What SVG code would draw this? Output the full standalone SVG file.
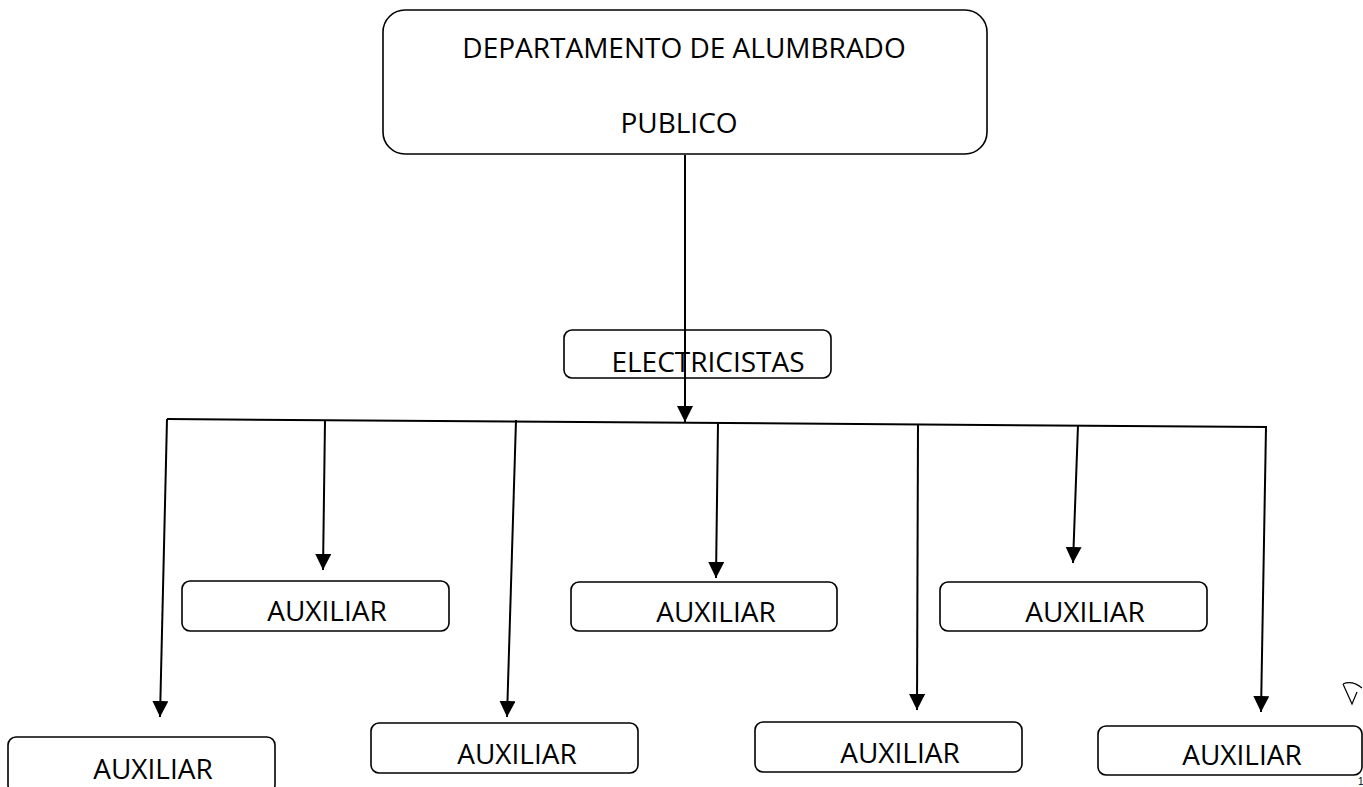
<svg xmlns="http://www.w3.org/2000/svg" width="1363" height="787" viewBox="0 0 1363 787">
<style>
.box{fill:#fff;stroke:#000;stroke-width:1.6}
.t{font-family:"Open Sans","Noto Sans","Liberation Sans",sans-serif;font-size:28px;fill:#000;text-anchor:middle}
.c{stroke:#000;stroke-width:2;fill:none}
</style>
<defs>
<marker id="ah" viewBox="0 0 16 16" refX="16" refY="8" markerWidth="16" markerHeight="16" markerUnits="userSpaceOnUse" orient="auto">
<path d="M0,0 L16,8 L0,16 z" fill="#000"/>
</marker>
</defs>
<rect width="1363" height="787" fill="#fff"/>
<g id="connectors">
<line class="c" x1="167" y1="419" x2="1267" y2="427"/>
<line class="c" x1="685" y1="155" x2="685" y2="422" marker-end="url(#ah)"/>
<line class="c" x1="167" y1="419" x2="160" y2="717" marker-end="url(#ah)"/>
<line class="c" x1="325" y1="420" x2="323" y2="570" marker-end="url(#ah)"/>
<line class="c" x1="516" y1="420" x2="507" y2="717" marker-end="url(#ah)"/>
<line class="c" x1="718" y1="422" x2="716" y2="578" marker-end="url(#ah)"/>
<line class="c" x1="918" y1="424" x2="917" y2="710" marker-end="url(#ah)"/>
<line class="c" x1="1078" y1="425" x2="1073" y2="563" marker-end="url(#ah)"/>
<line class="c" x1="1266" y1="427" x2="1261" y2="712" marker-end="url(#ah)"/>
</g>
<g id="departamento">
<rect class="box" x="383" y="10" width="604" height="144" rx="22"/>
<text class="t" x="684" y="58">DEPARTAMENTO DE ALUMBRADO</text>
<text class="t" x="679" y="133">PUBLICO</text>
</g>
<g id="electricistas">
<rect class="box" x="564" y="330" width="267" height="48" rx="8"/>
<line class="c" x1="685" y1="330" x2="685" y2="378"/>
<text class="t" x="708" y="372">ELECTRICISTAS</text>
</g>
<g id="aux1">
<rect class="box" x="8" y="737" width="267" height="56" rx="8"/>
<text class="t" x="153" y="779">AUXILIAR</text>
</g>
<g id="aux2">
<rect class="box" x="182" y="581" width="267" height="50" rx="8"/>
<text class="t" x="327" y="621">AUXILIAR</text>
</g>
<g id="aux3">
<rect class="box" x="371" y="723" width="267" height="50" rx="8"/>
<text class="t" x="517" y="764">AUXILIAR</text>
</g>
<g id="aux4">
<rect class="box" x="571" y="582" width="266" height="49" rx="8"/>
<text class="t" x="716" y="622">AUXILIAR</text>
</g>
<g id="aux5">
<rect class="box" x="755" y="722" width="267" height="50" rx="8"/>
<text class="t" x="900" y="763">AUXILIAR</text>
</g>
<g id="aux6">
<rect class="box" x="940" y="582" width="267" height="49" rx="8"/>
<text class="t" x="1085" y="622">AUXILIAR</text>
</g>
<g id="aux7">
<rect class="box" x="1098" y="726" width="264" height="49" rx="8"/>
<text class="t" x="1242" y="765">AUXILIAR</text>
</g>
<path d="M1343,684 L1352,704 L1357,692 M1343,684 Q1352,680 1362,688" fill="none" stroke="#000" stroke-width="1.2"/>
<text x="1358" y="785" font-family="Liberation Sans, sans-serif" font-size="10" fill="#000">1</text>
</svg>
